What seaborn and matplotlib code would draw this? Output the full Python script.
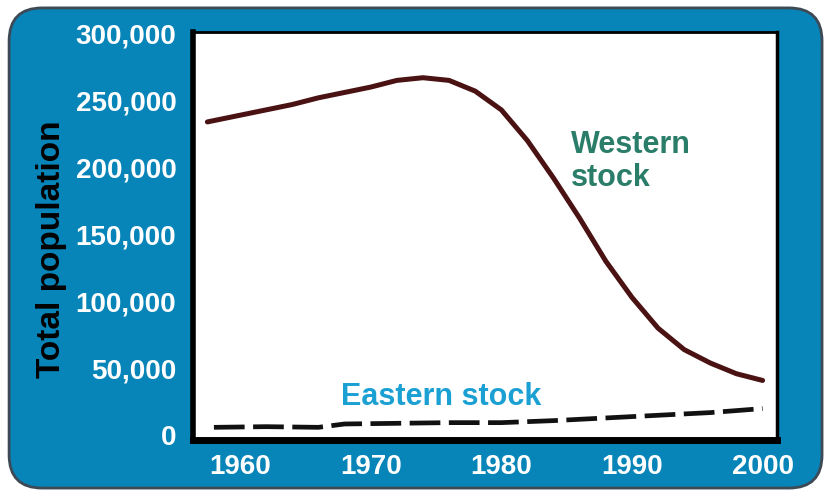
import matplotlib
matplotlib.use("Agg")
import matplotlib.pyplot as plt
from matplotlib.patches import FancyBboxPatch
from matplotlib.ticker import FuncFormatter
import seaborn as sns
import pandas as pd

# ---- data ----
west_years = [1957.5, 1960, 1962, 1964, 1966, 1968, 1970, 1972, 1974, 1976, 1978,
              1980, 1982, 1984, 1986, 1988, 1990, 1992, 1994, 1996, 1998, 2000]
west_pop = [234000, 239000, 243000, 247000, 252000, 256000, 260000, 265000, 267000,
            265000, 257000, 243000, 220000, 192000, 162000, 130000, 103000, 80000,
            64000, 54000, 46000, 41000]
east_years = [1958, 1962, 1966, 1968, 1972, 1976, 1980, 1984, 1988, 1992, 1996, 2000]
east_pop = [6000, 6500, 6000, 8500, 9000, 9500, 9500, 11000, 13000, 15000, 17000, 20000]
x_ticks = [1960, 1970, 1980, 1990, 2000]
y_ticks = [0, 50000, 100000, 150000, 200000, 250000, 300000]

west = pd.DataFrame({"year": west_years, "pop": west_pop})
east = pd.DataFrame({"year": east_years, "pop": east_pop})

sns.set_theme(style="white")
plt.rcParams['font.family'] = ['Liberation Sans', 'DejaVu Sans']

BLUE = "#0784b8"
fig = plt.figure(figsize=(8.27, 4.95), dpi=100)
fig.patch.set_facecolor("white")

bg = FancyBboxPatch((0.011, 0.014), 0.983, 0.97,
                    boxstyle="round,pad=0,rounding_size=0.04",
                    transform=fig.transFigure, facecolor=BLUE,
                    edgecolor="#3d4a55", linewidth=2, zorder=-5,
                    mutation_aspect=827/495)
fig.patches.append(bg)

ax = fig.add_axes([0.2334, 0.111, 0.7061, 0.824])
ax.set_zorder(1)
ax.set_facecolor("white")

sns.lineplot(data=west, x="year", y="pop", ax=ax, color="#4a1212", linewidth=3.6)
sns.lineplot(data=east, x="year", y="pop", ax=ax, color="#111111", linewidth=3.4)
ax.lines[-1].set_dashes((6.5, 1.8))

ax.set_xlim(1956.4, 2001.1)
ax.set_ylim(-3500, 301000)
ax.set_xticks(x_ticks)
ax.set_yticks(y_ticks)
ax.yaxis.set_major_formatter(FuncFormatter(lambda v, p: f"{int(v):,}"))
ax.tick_params(axis="y", length=0, pad=12, labelsize=20, labelcolor="white")
ax.tick_params(axis="x", length=0, pad=10, labelsize=20, labelcolor="white")
for lab in ax.get_xticklabels() + ax.get_yticklabels():
    lab.set_fontweight("bold")

ax.set_xlabel("")
ax.set_ylabel("Total population", fontsize=24, fontweight="bold", color="black")
ax.yaxis.set_label_coords(-0.216, 0.467)

for side, lw in {"left": 4, "bottom": 5, "top": 2, "right": 2.5}.items():
    ax.spines[side].set_visible(True)
    ax.spines[side].set_color("black")
    ax.spines[side].set_linewidth(lw)

ax.text(1985.3, 204500, "Western\nstock", fontsize=22, fontweight="bold",
        color="#2a7d69", ha="left", va="center", linespacing=1.15)
ax.text(1967.7, 29000, "Eastern stock", fontsize=22, fontweight="bold",
        color="#1aa0d2", ha="left", va="center")

fig.savefig("out.png", dpi=100, facecolor=fig.get_facecolor())
